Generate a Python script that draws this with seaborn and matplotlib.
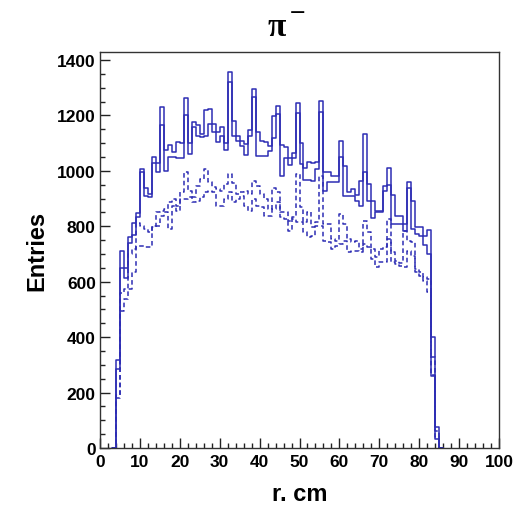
import numpy as np
import pandas as pd
import matplotlib
matplotlib.use("Agg")
import matplotlib.pyplot as plt
import seaborn as sns

# ---- data (bins 4..84, 1 cm wide) ----
bin_lo = list(range(4, 85))
solid_a = [317, 710, 650, 760, 811, 847, 1005, 940, 915, 1050, 1028, 1230, 1076, 1093, 1067, 1105,
           1100, 1262, 1100, 1177, 1165, 1133, 1221, 1224, 1169, 1141, 1157, 1100, 1358, 1181, 1127,
           1109, 1097, 1149, 1295, 1139, 1109, 1103, 1088, 1199, 1233, 1093, 1085, 1045, 1064, 1244,
           1099, 1009, 1033, 1028, 1033, 1253, 995, 995, 983, 983, 1109, 1016, 922, 934, 913, 964,
           1133, 952, 892, 856, 856, 946, 1009, 913, 836, 836, 808, 961, 892, 796, 796, 766, 787,
           401, 77]
solid_b = [285, 650, 612, 740, 770, 832, 995, 910, 905, 1030, 995, 1165, 1000, 1049, 1049, 1046,
           1046, 1200, 1060, 1157, 1127, 1121, 1127, 1169, 1141, 1103, 1125, 1076, 1319, 1127, 1109,
           1091, 1057, 1127, 1265, 1055, 1055, 1055, 1073, 1117, 1205, 983, 1045, 1021, 1045, 1209,
           1025, 968, 968, 964, 1007, 1213, 928, 959, 959, 959, 1049, 910, 910, 908, 892, 874,
           995, 892, 829, 850, 850, 928, 949, 808, 808, 808, 784, 940, 790, 772, 766, 732, 700,
           260, 32]
dashed_c = [190, 560, 574, 700, 718, 811, 802, 790, 778, 802, 850, 856, 863, 887, 899, 875,
            923, 995, 929, 905, 947, 971, 1007, 959, 941, 935, 928, 952, 989, 958, 916,
            922, 928, 916, 964, 946, 916, 898, 862, 940, 922, 850, 850, 820, 832, 989,
            868, 814, 850, 796, 814, 983, 808, 808, 754, 748, 844, 808, 754, 742, 748, 718,
            820, 778, 718, 688, 718, 724, 826, 706, 676, 667, 784, 748, 742, 646, 634, 616, 610,
            330, 62]
dashed_d = [180, 493, 538, 574, 634, 730, 730, 724, 724, 796, 802, 838, 850, 791, 875, 857,
            899, 899, 905, 887, 893, 905, 923, 929, 923, 875, 874, 898, 922, 886, 898,
            910, 874, 856, 898, 874, 868, 838, 838, 862, 886, 832, 826, 784, 826, 814,
            814, 778, 760, 766, 802, 802, 748, 742, 718, 730, 736, 748, 706, 712, 712, 706,
            736, 724, 682, 652, 670, 670, 754, 670, 664, 658, 652, 712, 694, 634, 622, 604, 562,
            265, 40]

x_ticks = [0, 10, 20, 30, 40, 50, 60, 70, 80, 90, 100]
y_ticks = [0, 200, 400, 600, 800, 1000, 1200, 1400]

sns.set_style("white")
plt.rcParams["font.family"] = ["Liberation Sans", "DejaVu Sans"]
plt.rcParams["text.color"] = "black"
plt.rcParams["axes.labelcolor"] = "black"

W, H = 520, 506
fig = plt.figure(figsize=(W / 100, H / 100), dpi=100)
ax = fig.add_axes([100 / W, 1 - 449 / H, 399 / W, 396 / H])

# pad with empty bins so steps drop to zero at both ends
lo = np.array([bin_lo[0] - 1] + bin_lo + [bin_lo[-1] + 1])
centers = lo + 0.5

def padded(v):
    return [0] + list(v) + [0]

df = pd.DataFrame({
    "r": np.tile(centers, 4),
    "n": padded(solid_a) + padded(solid_b) + padded(dashed_c) + padded(dashed_d),
    "s": ["A"] * len(lo) + ["B"] * len(lo) + ["C"] * len(lo) + ["D"] * len(lo),
})

blue = "#2d2db4"
for key, ls in [("C", (0, (3.0, 2.0))), ("D", (0, (3.0, 2.0))), ("A", "-"), ("B", "-")]:
    sub = df[df["s"] == key]
    sns.histplot(data=sub, x="r", weights="n", binwidth=1,
                 binrange=(float(lo[0]), float(lo[-1] + 1)), element="step", fill=False,
                 color=blue, linewidth=1.1, linestyle=ls, ax=ax)

ax.set_xlim(0, 100)
ax.set_ylim(0, 1429)
ax.set_xticks(x_ticks)
ax.set_yticks(y_ticks)
ax.set_xticks(np.arange(0, 101, 2), minor=True)
ax.set_yticks(np.arange(0, 1429, 50), minor=True)
ax.tick_params(axis="both", which="both", direction="in", top=False, right=False,
               bottom=True, left=True, colors="#222222", width=1.0)
ax.tick_params(axis="both", which="major", length=7.5, labelsize=12.5, labelcolor="black")
ax.tick_params(axis="both", which="minor", length=3.8)
ax.tick_params(axis="x", which="major", pad=4)
ax.tick_params(axis="y", which="major", pad=3)
for lab in ax.get_xticklabels() + ax.get_yticklabels():
    lab.set_fontweight("bold")
for sp in ax.spines.values():
    sp.set_color("#333333")
    sp.set_linewidth(1.0)

ax.set_xlabel("r. cm", fontsize=17, fontweight="bold", labelpad=10)
ax.set_ylabel("Entries", fontsize=17, fontweight="bold", labelpad=6)

# title  pi^-
fig.text(277 / W, 1 - 27 / H, "π", fontsize=24, fontweight="bold", family=["Liberation Serif"],
         ha="center", va="center")
fig.text(298 / W, 1 - 13 / H, "\u2212", fontsize=15, family=["DejaVu Sans"],
         ha="center", va="center")

fig.savefig("out.png", dpi=100, facecolor="white")
